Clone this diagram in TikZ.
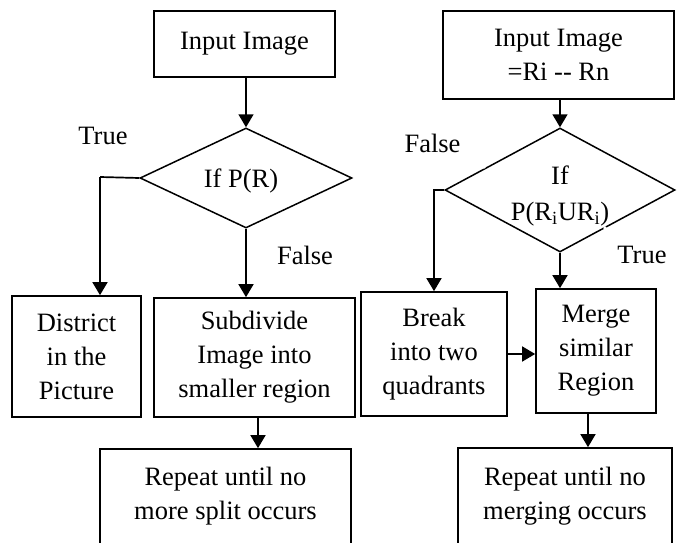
\documentclass[tikz,border=0pt]{standalone}
\usepackage{fontspec}
\setmainfont{Liberation Serif}
\usetikzlibrary{shapes.geometric,arrows.meta}
\begin{document}
\begin{tikzpicture}[x=1pt,y=-1pt,
  every node/.style={font=\fontsize{26.5}{34}\selectfont, inner sep=0pt},
  box/.style={draw, line width=1.7pt, rectangle, align=center},
  decision/.style={shape=diamond, draw, line width=1.5pt, align=center},
  txt/.style={align=center},
  flow/.style={line width=1.7pt, -{Triangle[width=15pt,length=13pt]}},
  link/.style={line width=1.7pt}]
\useasboundingbox (0,0) rectangle (677,543);
\clip (0,0) rectangle (677,543);

% ---- split branch ----
\node[box, minimum width=181, minimum height=66] (in1) at (244.5,44) {Input Image};
\node[decision, minimum width=212, minimum height=100] (d1) at (246,178) {};
\node[txt] (d1text) at (241,181) {If P(R)};
\node[box, minimum width=129, minimum height=121] (dist) at (76.5,356.5) {District\\in the\\Picture};
\node[box, minimum width=201, minimum height=119] (sub) at (254.5,357.5) {Subdivide\\Image into\\smaller region};
\node[box, minimum width=251, minimum height=131] (rep1) at (225.5,514.5) {};
\node[txt] (rep1text) at (225.5,496) {Repeat until no\\more split occurs};

\node[txt] (t1) at (103,136) {True};
\node[txt] (f1) at (305,255) {False};

\coordinate (tL) at (100,177);
\draw[flow] (in1.south -| d1.north) -- (d1.north);
\draw[link] (d1.west) -- (tL);
\draw[flow] (tL) -- (tL |- dist.north);
\draw[flow] (d1.south) -- (d1.south |- sub.north);
\draw[flow] ([xshift=3.5pt]sub.south) -- ([xshift=3.5pt]sub.south |- rep1.north);

% ---- merge branch ----
\node[box, minimum width=231, minimum height=88] (in2) at (558.5,55) {Input Image\\=Ri -{}- Rn};
\node[decision, minimum width=230, minimum height=124] (d2) at (560,190) {};
\node[txt] (d2text) at (560,196) {If\\[2pt]P(R\textsubscript{i}UR\textsubscript{i})};
\node[box, minimum width=146, minimum height=124] (brk) at (434,354) {Break\\into two\\quadrants};
\node[box, minimum width=120, minimum height=124] (mrg) at (596,351) {Merge\\similar\\Region};
\node[box, minimum width=214, minimum height=131] (rep2) at (565,513.5) {};
\node[txt] (rep2text) at (565,496) {Repeat until no\\merging occurs};

\node[txt] (f2) at (432.5,143) {False};
\node[txt] (t2) at (642,255) {True};

% small breaks in the decision outline
\fill[white] (484,167) circle (1.8pt);
\fill[white] (605,228) circle (1.8pt);

\draw[flow] (d2.north |- in2.south) -- (d2.north);
\draw[flow] (d2.west) -| (brk.north);
\draw[flow] (d2.south) -- (d2.south |- mrg.north);
\draw[flow] (brk.east) -- (brk.east -| mrg.west);
\draw[flow] ([xshift=-8pt]mrg.south) -- ([xshift=-8pt]mrg.south |- rep2.north);
\end{tikzpicture}
\end{document}
